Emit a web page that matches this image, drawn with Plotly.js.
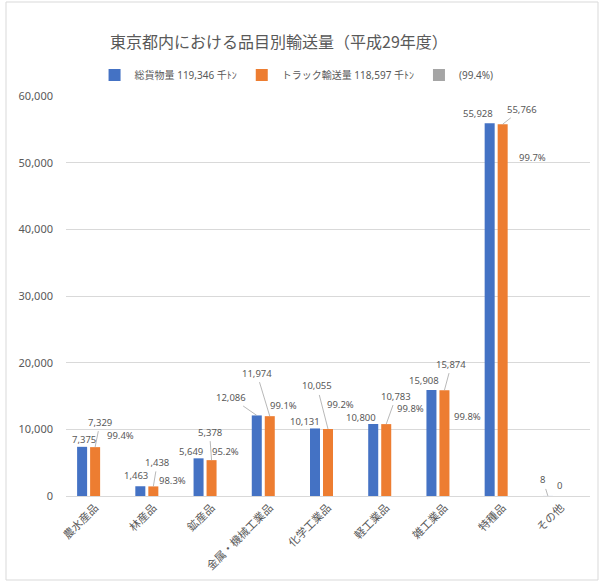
<!DOCTYPE html>
<html><head><meta charset="utf-8">
<script src="https://cdn.plot.ly/plotly-3.0.1.min.js"></script>
<style>html,body{margin:0;padding:0;background:#fff}#chart{width:604px;height:588px}</style>
</head><body><div id="chart"></div>
<script>
// ---- data ----
const categories = ['農水産品','林産品','鉱産品','金属・機械工業品','化学工業品','軽工業品','雑工業品','特種品','その他'];
const totalFreight = [7375, 1463, 5649, 12086, 10131, 10800, 15908, 55928, 8];
const truckFreight = [7329, 1438, 5378, 11974, 10055, 10783, 15874, 55766, 0];
const truckShare = [0.994, 0.983, 0.952, 0.991, 0.992, 0.998, 0.998, 0.997, 0];
const shareLabels = ['99.4%','98.3%','95.2%','99.1%','99.2%','99.8%','99.8%','99.7%',''];
const seriesNames = ['総貨物量 119,346 千ﾄﾝ', 'トラック輸送量 118,597 千ﾄﾝ', '(99.4%)'];
const chartTitle = '東京都内における品目別輸送量（平成29年度）';
const yTickValues = [0, 10000, 20000, 30000, 40000, 50000, 60000];

// ---- label placement (pixel offsets from bar tops, style only) ----
const blueShift = [[2,-7],[-4,-11],[-8,-7],[-26,-18],[-10,-7],[-12,-7],[-7,-9],[-12,-10],[-5,-16]];
const blueLeader = [false,false,false,true,false,false,false,false,true];
const orangeShift = [[5,-25],[4,-24],[-2,-28],[-13,-43],[-11,-43],[10,-28],[7,-26],[19,-15],[-1,-11]];
const orangeLeader = [true,true,true,true,true,true,true,true,false];
const shareShift = [[25,-12],[19,-6],[14,-9],[14,-11],[12,-24],[24,-16],[23,26],[30,33],[0,0]];

const COLORS = ['#4472C4', '#ED7D31', '#A5A5A5'];
const TXT = '#595959';
const FONT = '"Noto Sans", "Noto Sans CJK JP", sans-serif';
const BARGAP = 0.33;
const slot = (1 - BARGAP) / 3;

const fmt = v => v.toLocaleString('en-US');

const traces = [
  {type:'bar', name: seriesNames[0], x: categories, y: totalFreight, marker:{color: COLORS[0]}},
  {type:'bar', name: seriesNames[1], x: categories, y: truckFreight, marker:{color: COLORS[1]}},
  {type:'bar', name: seriesNames[2], x: categories, y: truckShare, marker:{color: COLORS[2]}}
];

const annotations = [];
const labelFont = {family: FONT, size: 9.5, color: TXT};
function addLabel(xIdx, yVal, text, shift, leader) {
  if (leader) {
    annotations.push({x: xIdx, y: yVal, xref:'x', yref:'y', text: text, showarrow: true,
      arrowhead: 0, arrowwidth: 0.8, arrowcolor: '#A6A6A6', ax: shift[0], ay: shift[1],
      standoff: 0, startstandoff: 1, font: labelFont});
  } else {
    annotations.push({x: xIdx, y: yVal, xref:'x', yref:'y', text: text, showarrow: false,
      xshift: shift[0], yshift: -shift[1], xanchor:'center', yanchor:'middle', font: labelFont});
  }
}
categories.forEach((c, i) => {
  addLabel(i - slot, totalFreight[i], fmt(totalFreight[i]), blueShift[i], blueLeader[i]);
  addLabel(i, truckFreight[i], fmt(truckFreight[i]), orangeShift[i], orangeLeader[i]);
  if (shareLabels[i]) addLabel(i, truckFreight[i], shareLabels[i], shareShift[i], false);
});

// plot area geometry
const L = 66, R = 14, T = 96, B = 92, W = 604, H = 588;
const pw = W - L - R, ph = H - T - B;

const layout = {
  width: W, height: H,
  margin: {l: L, r: R, t: T, b: B},
  paper_bgcolor: '#fff', plot_bgcolor: '#fff',
  font: {family: FONT, color: TXT},
  title: {text: chartTitle, x: 279 / W, xref: 'container', xanchor: 'center', y: 1 - 42 / H, yref: 'container', yanchor: 'middle',
          font: {family: '"Noto Sans CJK JP", sans-serif', size: 16, color: TXT}},
  barmode: 'group', bargap: BARGAP, bargroupgap: 0.23,
  showlegend: true,
  legend: {orientation: 'h', x: 0.44, xanchor: 'center', y: 1 + 21 / ph, yanchor: 'middle',
           font: {family: FONT, size: 10, color: TXT}, itemclick: false, traceorder: 'normal'},
  xaxis: {type: 'category', tickangle: -45, showline: true, linecolor: '#D9D9D9', linewidth: 1,
          ticks: '', showgrid: false, tickfont: {family: '"Noto Sans CJK JP", sans-serif', size: 11, color: TXT}},
  yaxis: {range: [0, 60000], tickvals: yTickValues, tickformat: ',d', showgrid: true, gridcolor: '#D9D9D9',
          gridwidth: 1, zeroline: true, zerolinecolor: '#D9D9D9', showline: false, ticks: '',
          ticklabelstandoff: 12, tickfont: {family: FONT, size: 11, color: TXT}},
  annotations: annotations,
  shapes: [{type: 'rect', xref: 'paper', yref: 'paper', layer: 'above',
            x0: (6 - L) / pw, x1: (598 - L) / pw, y0: (T + ph - 580) / ph, y1: (T + ph - 2) / ph,
            line: {color: '#D9D9D9', width: 1}, fillcolor: 'rgba(0,0,0,0)'}]
};

Plotly.newPlot('chart', traces, layout, {staticPlot: true, displayModeBar: false});
</script>
</body></html>
